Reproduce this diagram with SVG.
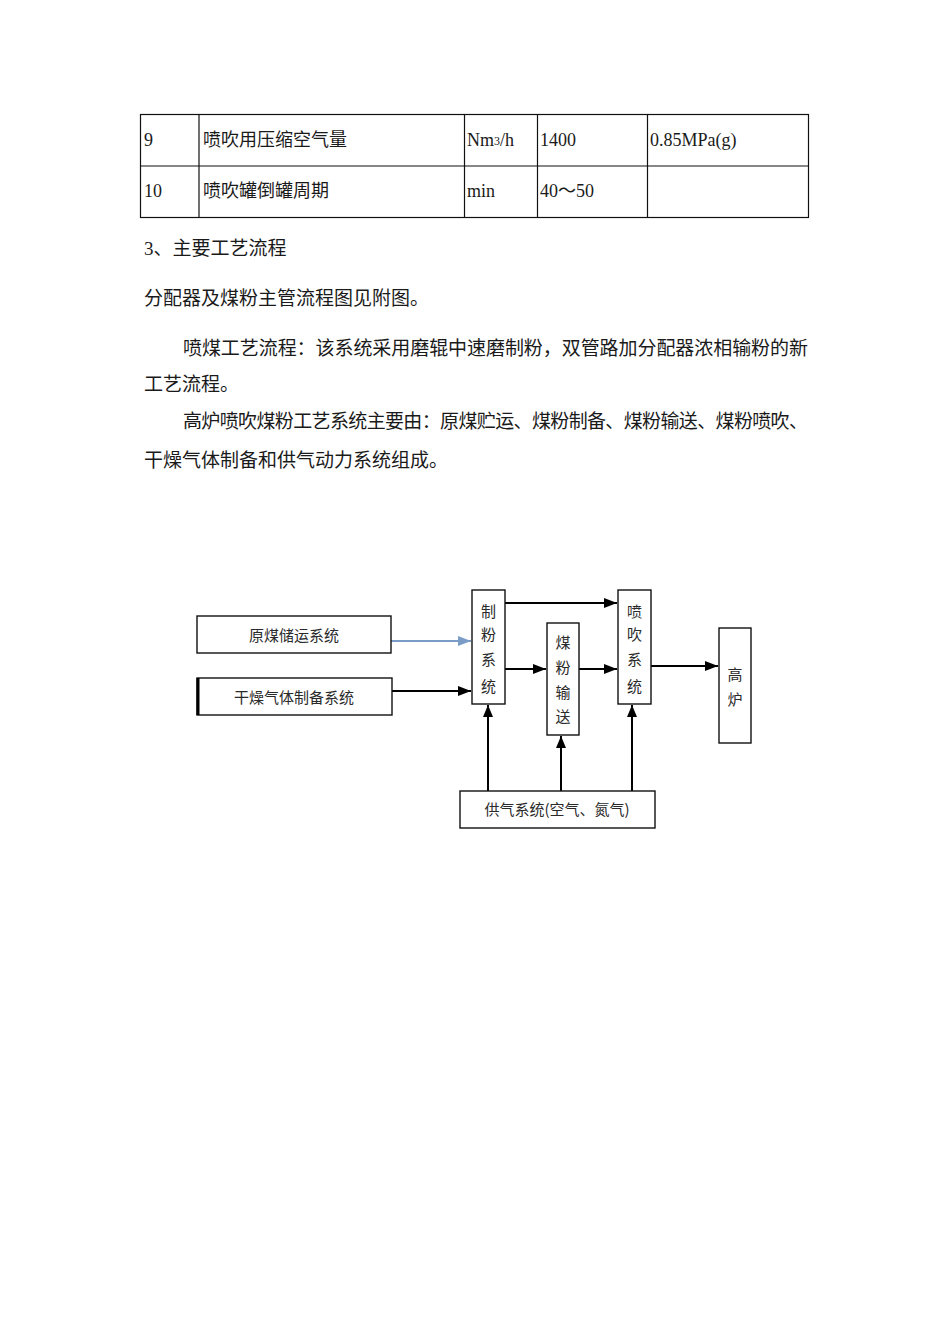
<svg xmlns="http://www.w3.org/2000/svg" width="950" height="1344" viewBox="0 0 950 1344">
<style>
.t{font-family:"Liberation Serif","Noto Sans CJK SC",serif;font-size:18px;fill:#1a1a1a}
.b{font-family:"Liberation Serif","Noto Sans CJK SC",serif;font-size:19px;fill:#1a1a1a}
.d{font-family:"Noto Sans CJK SC",sans-serif;font-size:15px;fill:#2a2a2a;text-anchor:middle}
.box{fill:#fff;stroke:#111;stroke-width:1.4}
.grid{stroke:#111;stroke-width:1.2;fill:none}
.c{stroke:#000;stroke-width:2;fill:none}
</style>
<defs>
<marker id="ah" viewBox="0 0 10 10" refX="10" refY="5" markerWidth="13" markerHeight="10" markerUnits="userSpaceOnUse" orient="auto" preserveAspectRatio="none"><path d="M0,0 L10,5 L0,10 z" fill="#000"/></marker>
<marker id="ahv" viewBox="0 0 10 10" refX="10" refY="5" markerWidth="12" markerHeight="10" markerUnits="userSpaceOnUse" orient="auto" preserveAspectRatio="none"><path d="M0,0 L10,5 L0,10 z" fill="#000"/></marker>
<marker id="ahb" viewBox="0 0 10 10" refX="10" refY="5" markerWidth="13" markerHeight="10" markerUnits="userSpaceOnUse" orient="auto" preserveAspectRatio="none"><path d="M0,0 L10,5 L0,10 z" fill="#7a9cc6"/></marker>
</defs>
<rect width="950" height="1344" fill="#fff"/>
<g id="table">
<rect class="grid" x="140.5" y="114.5" width="668" height="103"/>
<line class="grid" x1="140" y1="166" x2="809" y2="166"/>
<line class="grid" x1="199" y1="114" x2="199" y2="218"/>
<line class="grid" x1="464.5" y1="114" x2="464.5" y2="218"/>
<line class="grid" x1="537.5" y1="114" x2="537.5" y2="218"/>
<line class="grid" x1="647.5" y1="114" x2="647.5" y2="218"/>
<text class="t" x="144" y="146">9</text>
<text class="t" x="203" y="146">喷吹用压缩空气量</text>
<text class="t" x="467" y="146">Nm<tspan font-size="12" dy="-1">3</tspan><tspan dy="1">/h</tspan></text>
<text class="t" x="540" y="146">1400</text>
<text class="t" x="650" y="146">0.85MPa(g)</text>
<text class="t" x="144" y="197">10</text>
<text class="t" x="203" y="197">喷吹罐倒罐周期</text>
<text class="t" x="467" y="197">min</text>
<text class="t" x="540" y="197">40～50</text>
</g>
<g id="body">
<text class="b" x="144" y="255">3、主要工艺流程</text>
<text class="b" x="144" y="305">分配器及煤粉主管流程图见附图。</text>
<text class="b" x="183" y="355" textLength="625" lengthAdjust="spacing">喷煤工艺流程：该系统采用磨辊中速磨制粉，双管路加分配器浓相输粉的新</text>
<text class="b" x="144" y="391">工艺流程。</text>
<text class="b" x="183" y="428" textLength="625" lengthAdjust="spacing">高炉喷吹煤粉工艺系统主要由：原煤贮运、煤粉制备、煤粉输送、煤粉喷吹、</text>
<text class="b" x="144" y="467">干燥气体制备和供气动力系统组成。</text>
</g>
<g id="connectors">
<line x1="388" y1="641" x2="471" y2="641" stroke="#7a9cc6" stroke-width="2.2" marker-end="url(#ahb)"/>
<line class="c" x1="392" y1="691" x2="471" y2="691" marker-end="url(#ah)"/>
<line class="c" x1="505" y1="603" x2="617" y2="603" marker-end="url(#ah)"/>
<line class="c" x1="505" y1="669" x2="546" y2="669" marker-end="url(#ah)"/>
<line class="c" x1="579" y1="669" x2="617" y2="669" marker-end="url(#ah)"/>
<line class="c" x1="651" y1="666" x2="718" y2="666" marker-end="url(#ah)"/>
<line class="c" x1="488" y1="791" x2="488" y2="705" stroke-width="2.8" marker-end="url(#ahv)"/>
<line class="c" x1="561" y1="791" x2="561" y2="736" stroke-width="2.8" marker-end="url(#ahv)"/>
<line class="c" x1="632" y1="791" x2="632" y2="705" stroke-width="2.8" marker-end="url(#ahv)"/>
</g>
<g id="n-yuanmei">
<rect class="box" x="197" y="616" width="194" height="37"/>
<text class="d" x="294" y="641">原煤储运系统</text>
</g>
<g id="n-ganzao">
<rect class="box" x="197" y="678" width="195" height="37" stroke-width="2"/>
<line x1="198" y1="678" x2="198" y2="715" stroke="#000" stroke-width="3"/>
<text class="d" x="294" y="703">干燥气体制备系统</text>
</g>
<g id="n-zhifen">
<rect class="box" x="472" y="590" width="33" height="114" stroke-width="1.8"/>
<text class="d" x="488.5" y="617">制</text>
<text class="d" x="488.5" y="640">粉</text>
<text class="d" x="488.5" y="665">系</text>
<text class="d" x="488.5" y="692">统</text>
</g>
<g id="n-meifen">
<rect class="box" x="547" y="623" width="32" height="112"/>
<text class="d" x="563" y="648">煤</text>
<text class="d" x="563" y="673">粉</text>
<text class="d" x="563" y="698">输</text>
<text class="d" x="563" y="722">送</text>
</g>
<g id="n-penchui">
<rect class="box" x="618" y="590" width="33" height="114" stroke-width="1.8"/>
<text class="d" x="634.5" y="617">喷</text>
<text class="d" x="634.5" y="640">吹</text>
<text class="d" x="634.5" y="665">系</text>
<text class="d" x="634.5" y="692">统</text>
</g>
<g id="n-gaolu">
<rect class="box" x="719" y="628" width="32" height="115" stroke-width="2"/>
<text class="d" x="735" y="680">高</text>
<text class="d" x="735" y="705">炉</text>
</g>
<g id="n-gongqi">
<rect class="box" x="460" y="791" width="195" height="37"/>
<text class="d" x="557" y="815">供气系统(空气、氮气)</text>
</g>
</svg>
